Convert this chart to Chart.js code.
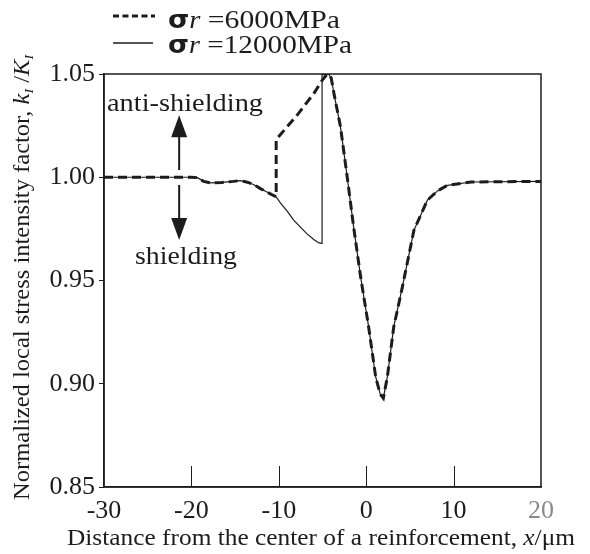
<!DOCTYPE html>
<html>
<head>
<meta charset="utf-8">
<script src="https://cdn.jsdelivr.net/npm/chart.js@4.4.1/dist/chart.umd.min.js"></script>
<style>
  html, body { margin: 0; padding: 0; background: #fff; }
  #wrap { width: 590px; height: 554px; }
</style>
</head>
<body>
<div id="wrap"><canvas id="chart" width="590" height="554"></canvas></div>
<script>
// valores
const xTicks = [-30, -20, -10, 0, 10, 20];
const yTicks = [0.85, 0.90, 0.95, 1.00, 1.05];

// tramo comun a la izquierda
const leftX = [-30, -20, -19.3, -18.6, -17.8, -16.5, -15.2, -14.4, -13.6, -12.9, -12.1, -11.3, -10.3];
const leftY = [1.000, 1.000, 0.9998, 0.9980, 0.9973, 0.9975, 0.9980, 0.9984, 0.9976, 0.9965, 0.9945, 0.9927, 0.9905];

// tramo propio de cada serie
const mid6000X = [-10.3, -7.9, -6.0, -5.0, -4.6];
const mid6000Y = [1.0183, 1.0301, 1.0405, 1.0472, 1.0493];
const mid12000X = [-9.8, -9.0, -8.3, -7.5, -6.8, -6.0, -5.4, -5.05, -5.05, -4.6];
const mid12000Y = [0.9875, 0.9833, 0.9792, 0.9757, 0.9727, 0.9699, 0.9682, 0.9680, 1.0497, 1.0499];

// tramo comun a la derecha
const rightX = [-4.3, -4.0, -3.7, -2.94, -2.17, -1.44, -0.64, 0.28, 1.08, 1.6, 1.96, 2.42, 3.15, 4.14, 5.46, 7.0, 8.2, 9.3, 12, 20];
const rightY = [1.0500, 1.0480, 1.0408, 1.0244, 1.0000, 0.9760, 0.9518, 0.9275, 0.9034, 0.8950, 0.8930, 0.9033, 0.9275, 0.9469, 0.9743, 0.9889, 0.9935, 0.9961, 0.9977, 0.9980];

const serif = '"Liberation Serif", "Times New Roman", serif';
const ink = '#1c1c1c';

function toPoints(xs, ys) {
  return xs.map((x, i) => ({ x: x, y: ys[i] }));
}

const pts6000 = toPoints(leftX.concat(mid6000X, rightX), leftY.concat(mid6000Y, rightY));
const pts12000 = toPoints(leftX.concat(mid12000X, rightX), leftY.concat(mid12000Y, rightY));

// texto con partes de distinta fuente, ajustado a un ancho
function richText(ctx, parts, x, y, width) {
  let total = 0;
  parts.forEach(p => { ctx.font = p.f; total += ctx.measureText(p.t).width; });
  const k = width ? width / total : 1;
  ctx.save();
  ctx.translate(x, y);
  ctx.scale(k, 1);
  let cx = 0;
  parts.forEach(p => {
    ctx.font = p.f;
    ctx.fillText(p.t, cx, p.dy || 0);
    cx += ctx.measureText(p.t).width;
  });
  ctx.restore();
}

function arrowHead(ctx, x, tipY, dir) {
  ctx.beginPath();
  ctx.moveTo(x, tipY);
  ctx.lineTo(x - 8, tipY + dir * 22);
  ctx.lineTo(x + 8, tipY + dir * 22);
  ctx.closePath();
  ctx.fill();
}

const extras = {
  id: 'extras',
  afterDraw(chart) {
    const ctx = chart.ctx;
    const a = chart.chartArea;
    const xs = chart.scales.x;
    const ys = chart.scales.y;
    ctx.save();
    ctx.strokeStyle = ink;
    ctx.fillStyle = ink;

    // marco
    ctx.lineWidth = 1.5;
    ctx.strokeRect(a.left, a.top, a.right - a.left, a.bottom - a.top);

    // marcas interiores del eje x
    ctx.lineWidth = 1;
    xTicks.slice(1, -1).forEach(v => {
      const px = Math.round(xs.getPixelForValue(v)) + 0.5;
      ctx.beginPath();
      ctx.moveTo(px, a.bottom);
      ctx.lineTo(px, a.bottom - 21);
      ctx.stroke();
    });

    // flechas anti-shielding / shielding
    const ax = xs.getPixelForValue(-21.4);
    ctx.lineWidth = 2;
    ctx.beginPath();
    ctx.moveTo(ax, ys.getPixelForValue(1.026));
    ctx.lineTo(ax, ys.getPixelForValue(1.0035));
    ctx.moveTo(ax, ys.getPixelForValue(0.9963));
    ctx.lineTo(ax, ys.getPixelForValue(0.974));
    ctx.stroke();
    arrowHead(ctx, ax, ys.getPixelForValue(1.030), 1);
    arrowHead(ctx, ax, ys.getPixelForValue(0.9696), -1);

    ctx.textBaseline = 'alphabetic';
    richText(ctx, [{ t: 'anti-shielding', f: '26px ' + serif }], 107, 111, 156);
    richText(ctx, [{ t: 'shielding', f: '26px ' + serif }], 135, 264, 102);

    // leyenda
    ctx.lineWidth = 3;
    ctx.setLineDash([6, 3.5]);
    ctx.beginPath();
    ctx.moveTo(113, 16);
    ctx.lineTo(155, 16);
    ctx.stroke();
    ctx.setLineDash([]);
    ctx.lineWidth = 1.3;
    ctx.beginPath();
    ctx.moveTo(113, 43);
    ctx.lineTo(153, 43);
    ctx.stroke();
    const sig = 'bold 24px "DejaVu Sans", sans-serif';
    const it = 'italic 25px ' + serif;
    const rm = '26px ' + serif;
    richText(ctx, [{ t: '\u03c3', f: sig }, { t: 'r', f: it }, { t: ' =6000MPa', f: rm }], 168, 28, 172);
    richText(ctx, [{ t: '\u03c3', f: sig }, { t: 'r', f: it }, { t: ' =12000MPa', f: rm }], 168, 53, 184);

    // titulos de los ejes
    const tf = '23px ' + serif;
    const ti = 'italic 23px ' + serif;
    const sub = 'italic 13px ' + serif;
    richText(ctx, [
      { t: 'Distance from the center of a reinforcement, ', f: tf },
      { t: 'x', f: ti },
      { t: '/\u03bcm', f: tf }
    ], 67, 545, 508);

    ctx.save();
    ctx.translate(29, 500);
    ctx.rotate(-Math.PI / 2);
    richText(ctx, [
      { t: 'Normalized local stress intensity factor, ', f: tf },
      { t: 'k', f: ti },
      { t: 'I', f: sub, dy: 4 },
      { t: ' /', f: tf },
      { t: 'K', f: ti },
      { t: 'I', f: sub, dy: 4 }
    ], 0, 0, 445);
    ctx.restore();

    ctx.restore();
  }
};

new Chart(document.getElementById('chart'), {
  type: 'line',
  data: {
    datasets: [
      {
        label: '\u03c3r =6000MPa',
        data: pts6000,
        borderColor: ink,
        borderWidth: 3,
        borderDash: [9, 5],
        pointRadius: 0,
        tension: 0,
        fill: false
      },
      {
        label: '\u03c3r =12000MPa',
        data: pts12000,
        borderColor: ink,
        borderWidth: 1.2,
        pointRadius: 0,
        tension: 0,
        fill: false
      }
    ]
  },
  options: {
    responsive: false,
    animation: false,
    layout: { padding: { top: 74, right: 49, left: 0, bottom: 0 } },
    plugins: {
      legend: { display: false },
      tooltip: { enabled: false }
    },
    scales: {
      x: {
        type: 'linear',
        min: -30,
        max: 20,
        afterBuildTicks: s => { s.ticks = xTicks.map(v => ({ value: v })); },
        afterFit: s => { s.height = 67; },
        grid: { display: false },
        border: { display: true, color: ink, width: 1.5 },
        ticks: {
          padding: 1,
          maxRotation: 0,
          color: c => (c.tick && c.tick.value === 20 ? '#8a8a8a' : ink),
          font: { family: serif, size: 26 },
          callback: v => String(v)
        }
      },
      y: {
        type: 'linear',
        min: 0.85,
        max: 1.05,
        afterBuildTicks: s => { s.ticks = yTicks.map(v => ({ value: v })); },
        afterFit: s => { s.width = 104; },
        grid: { drawOnChartArea: false, drawTicks: true, tickLength: 5, color: ink },
        border: { display: true, color: ink, width: 1.5 },
        ticks: {
          padding: 4,
          color: ink,
          font: { family: serif, size: 26 },
          callback: v => v.toFixed(2)
        }
      }
    }
  },
  plugins: [extras]
});
</script>
</body>
</html>
